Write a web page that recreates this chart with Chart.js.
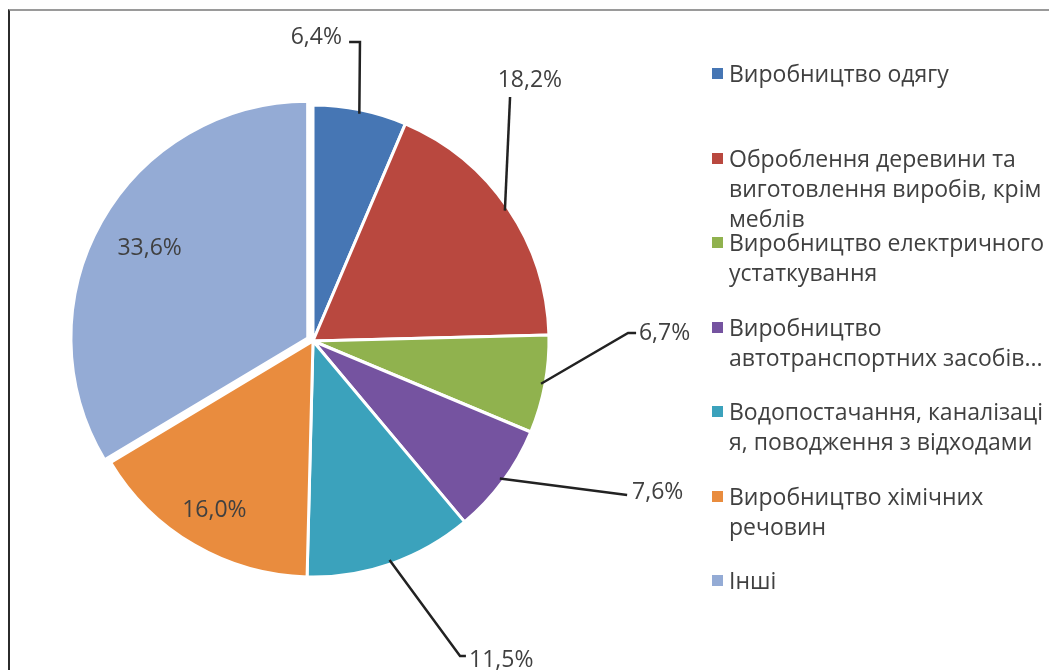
<!DOCTYPE html>
<html>
<head>
<meta charset="utf-8">
<script src="https://cdn.jsdelivr.net/npm/chart.js@4.4.1/dist/chart.umd.min.js"></script>
<style>
html,body{margin:0;padding:0;background:#fff;}
#wrap{position:relative;width:1049px;height:670px;overflow:hidden;background:#fff;}
#frame{position:absolute;left:8px;top:9px;width:1100px;height:720px;border-left:2px solid #2b2b2b;border-top:2px solid #9a9a9a;}
#pie{position:absolute;left:0;top:0;}
#legend{position:absolute;left:0;top:0;font-family:"Open Sans",sans-serif;font-size:23px;color:#404040;}
.item{position:absolute;left:712px;line-height:30px;white-space:nowrap;}
.box{position:absolute;left:0;top:10px;width:11px;height:11px;}
.txt{position:absolute;left:17px;top:0;}
</style>
</head>
<body>
<div id="wrap">
  <div id="frame"></div>
  <canvas id="pie" width="1049" height="670"></canvas>
  <div id="legend"></div>
</div>
<script>
// data
const categories = [
  ['Виробництво одягу'],
  ['Оброблення деревини та', 'виготовлення виробів, крім', 'меблів'],
  ['Виробництво електричного', 'устаткування'],
  ['Виробництво', 'автотранспортних засобів...'],
  ['Водопостачання, каналізаці', 'я, поводження з відходами'],
  ['Виробництво хімічних', 'речовин'],
  ['Інші']
];
const shares = [6.4, 18.2, 6.7, 7.6, 11.5, 16.0, 33.6];
const colors = ['#4676b4','#b9483f','#90b24e','#7553a0','#3ba2bc','#e98c3e','#94abd5'];

// label spots, in units of the radius from the pie centre
// path = elbow points of the leader line after the arc edge
const labelSpots = [
  {x:0.014, y:-1.288, align:'center', path:[[0.199,-1.267],[0.153,-1.267]]},
  {x:0.919, y:-1.106, align:'center', path:[[0.835,-1.034]]},
  {x:1.381, y:-0.030, align:'left', path:[[1.335,-0.034],[1.369,-0.034]]},
  {x:1.352, y:0.640, align:'left', path:[[1.331,0.653]]},
  {x:0.661, y:1.352, align:'left', path:[[0.623,1.335],[0.648,1.335]]},
  {inside:0.83},
  {inside:0.77}
];

// legend
const legend = document.getElementById('legend');
categories.forEach((lines, i) => {
  const it = document.createElement('div');
  it.className = 'item';
  it.style.top = (58 + i * 84.5) + 'px';
  const b = document.createElement('div');
  b.className = 'box';
  b.style.background = colors[i];
  const t = document.createElement('div');
  t.className = 'txt';
  t.innerHTML = lines.join('<br>');
  it.appendChild(b);
  it.appendChild(t);
  legend.appendChild(it);
});

const fmt = v => v.toFixed(1).replace('.', ',') + '%';

const pieLabels = {
  id: 'pieLabels',
  afterDatasetsDraw(chart) {
    const ctx = chart.ctx;
    const arcs = chart.getDatasetMeta(0).data;
    ctx.save();
    ctx.font = '23px "Open Sans"';
    ctx.fillStyle = '#404040';
    ctx.strokeStyle = '#222222';
    ctx.lineWidth = 2.5;
    ctx.textBaseline = 'middle';
    arcs.forEach((arc, i) => {
      const s = labelSpots[i];
      const R = arc.outerRadius;
      const mid = (arc.startAngle + arc.endAngle) / 2;
      const text = fmt(shares[i]);
      if (s.inside) {
        const off = (arc.options.offset || 0) / 4;
        const cx = arc.x + Math.cos(mid) * off;
        const cy = arc.y + Math.sin(mid) * off;
        ctx.textAlign = 'center';
        ctx.fillText(text, cx + Math.cos(mid) * R * s.inside, cy + Math.sin(mid) * R * s.inside);
        return;
      }
      ctx.beginPath();
      ctx.moveTo(arc.x + Math.cos(mid) * (R - 4), arc.y + Math.sin(mid) * (R - 4));
      s.path.forEach(p => ctx.lineTo(arc.x + p[0] * R, arc.y + p[1] * R));
      ctx.stroke();
      ctx.textAlign = s.align;
      ctx.fillText(text, arc.x + s.x * R, arc.y + s.y * R);
    });
    ctx.restore();
  }
};

new Chart(document.getElementById('pie'), {
  type: 'pie',
  data: {
    labels: categories,
    datasets: [{
      data: shares,
      backgroundColor: colors,
      borderColor: '#ffffff',
      borderWidth: 3,
      offset: [0,0,0,0,0,0,24]
    }]
  },
  options: {
    responsive: false,
    animation: false,
    devicePixelRatio: 1,
    radius: 236,
    layout: { padding: { left: 0, right: 423, top: 12, bottom: 0 } },
    plugins: { legend: { display: false }, tooltip: { enabled: false } }
  },
  plugins: [pieLabels]
});
</script>
</body>
</html>
